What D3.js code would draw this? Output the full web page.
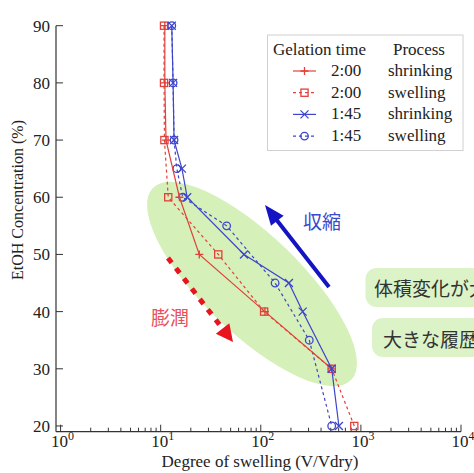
<!DOCTYPE html>
<html><head><meta charset="utf-8">
<script src="https://cdn.jsdelivr.net/npm/d3@7"></script>
<style>body{margin:0;background:#fff;overflow:hidden}svg{display:block}</style>
</head><body>
<script>
// ---- data ----
const redShrinkConc = [90,80,70,60,50,40,30];
const redShrinkVal  = [11.0,11.0,11.3,15.4,24.3,110,511];
const redSwellConc  = [90,80,70,60,50,40,30,20];
const redSwellVal   = [10.8,10.8,10.9,11.9,37.6,108,511,859];
const blueShrinkConc = [90,80,70,65,60,50,45,40,30,20];
const blueShrinkVal  = [12.9,13.3,13.6,16.3,18.4,68,191,262,511,603];
const blueSwellConc  = [90,80,70,65,60,55,45,35,20];
const blueSwellVal   = [12.9,13.3,13.6,14.5,16.6,45.6,139,305,511];
const yTicks = [20,30,40,50,60,70,80,90];
const xDecades = [0,1,2,3,4];
const legendTimes = ["2:00","2:00","1:45","1:45"];
const legendProcess = ["shrinking","swelling","shrinking","swelling"];

const W=474,H=473;
const RED="#e2403a", BLUE="#3d45cc";
const serif="'Liberation Serif','Times New Roman',serif";
const cjk="'Noto Sans CJK JP','Noto Sans CJK SC',sans-serif";

const svg=d3.select("body").append("svg").attr("width",W).attr("height",H);
const x=d3.scaleLog().domain([0.9,1e4]).range([56,461]);
const y=d3.scaleLinear().domain([19,90]).range([431.7,25.7]);

// green ellipse
svg.append("ellipse").attr("cx",252).attr("cy",284).attr("rx",138).attr("ry",49)
  .attr("transform","rotate(44,252,284)").attr("fill","#d6f0b9");

// axes
const axG=svg.append("g").attr("stroke","#333").attr("fill","none");
axG.append("line").attr("x1",56).attr("x2",56).attr("y1",y(90)).attr("y2",y(19)).attr("stroke-width",1.2);
axG.append("line").attr("x1",56).attr("x2",x(1e4)).attr("y1",y(19)).attr("y2",y(19)).attr("stroke-width",1.2);
yTicks.forEach(t=>{
  axG.append("line").attr("x1",56).attr("x2",63).attr("y1",y(t)).attr("y2",y(t));
  svg.append("text").attr("x",50).attr("y",y(t)+6).attr("text-anchor","end")
    .attr("font-family",serif).attr("font-size",17).attr("fill","#222").text(t);
});
xDecades.forEach(d=>{
  const v=Math.pow(10,d);
  axG.append("line").attr("x1",x(v)).attr("x2",x(v)).attr("y1",y(19)).attr("y2",y(19)-7);
  const t=svg.append("text").attr("x",x(v)+2).attr("y",447).attr("text-anchor","middle")
    .attr("font-family",serif).attr("font-size",17).attr("fill","#222");
  t.append("tspan").text("10");
  t.append("tspan").attr("dy",-7).attr("font-size",12).text(d);
  if(d<4) for(let m=2;m<=9;m++){
    const mv=m*v;
    axG.append("line").attr("x1",x(mv)).attr("x2",x(mv)).attr("y1",y(19)).attr("y2",y(19)-4);
  }
});
svg.append("text").attr("x",260).attr("y",467).attr("text-anchor","middle")
  .attr("font-family",serif).attr("font-size",17).attr("fill","#222").text("Degree of swelling (V/Vdry)");
svg.append("text").attr("transform","translate(23,200) rotate(-90)").attr("text-anchor","middle")
  .attr("font-family",serif).attr("font-size",16).attr("fill","#222").text("EtOH Concentration (%)");

// markers
function marker(g,type,cx,cy,color){
  const s=4;
  if(type==="plus"){
    g.append("path").attr("d",`M${cx-s},${cy}H${cx+s}M${cx},${cy-s}V${cy+s}`).attr("stroke",color).attr("stroke-width",1.3).attr("fill","none");
  } else if(type==="square"){
    g.append("rect").attr("x",cx-3.6).attr("y",cy-3.6).attr("width",7.2).attr("height",7.2).attr("stroke",color).attr("stroke-width",1.3).attr("fill","none");
  } else if(type==="cross"){
    g.append("path").attr("d",`M${cx-s},${cy-s}L${cx+s},${cy+s}M${cx-s},${cy+s}L${cx+s},${cy-s}`).attr("stroke",color).attr("stroke-width",1.3).attr("fill","none");
  } else {
    g.append("circle").attr("cx",cx).attr("cy",cy).attr("r",3.8).attr("stroke",color).attr("stroke-width",1.3).attr("fill","none");
  }
}
const series=[
  {conc:redSwellConc,val:redSwellVal,color:RED,dash:"3,3",m:"square"},
  {conc:blueSwellConc,val:blueSwellVal,color:BLUE,dash:"3,3",m:"circle"},
  {conc:redShrinkConc,val:redShrinkVal,color:RED,dash:null,m:"plus"},
  {conc:blueShrinkConc,val:blueShrinkVal,color:BLUE,dash:null,m:"cross"}
];
const line=d3.line().x(d=>x(d[1])).y(d=>y(d[0]));
series.forEach(s=>{
  const pts=s.conc.map((c,i)=>[c,s.val[i]]);
  svg.append("path").attr("d",line(pts)).attr("fill","none").attr("stroke",s.color)
    .attr("stroke-width",1.2).attr("stroke-dasharray",s.dash);
  const g=svg.append("g");
  pts.forEach(p=>marker(g,s.m,x(p[1]),y(p[0]),s.color));
});

// legend
const lg=svg.append("g");
lg.append("rect").attr("x",267.5).attr("y",35).attr("width",195.5).attr("height",115.5)
  .attr("fill","#fff").attr("stroke","#d0d0d0");
lg.append("text").attr("x",273).attr("y",55).attr("font-family",serif).attr("font-size",17).attr("fill","#222").text("Gelation time");
lg.append("text").attr("x",393).attr("y",55).attr("font-family",serif).attr("font-size",17).attr("fill","#222").text("Process");
const legOrder=[series[2],series[0],series[3],series[1]];
legendTimes.forEach((t,i)=>{
  const by=76+i*21.7, s=legOrder[i];
  lg.append("line").attr("x1",293).attr("x2",316).attr("y1",by-5).attr("y2",by-5)
    .attr("stroke",s.color).attr("stroke-width",1.2).attr("stroke-dasharray",s.dash);
  marker(lg,s.m,304.5,by-5,s.color);
  lg.append("text").attr("x",331).attr("y",by).attr("font-family",serif).attr("font-size",17).attr("fill","#222").text(t);
  lg.append("text").attr("x",388).attr("y",by).attr("font-family",serif).attr("font-size",17).attr("fill","#222").text(legendProcess[i]);
});

// annotations
// blue arrow (shrinking)
(function(){
  const tail=[329,287], tip=[265,205];
  const dx=tip[0]-tail[0], dy=tip[1]-tail[1], L=Math.hypot(dx,dy), ux=dx/L, uy=dy/L;
  const hl=20, hw=8, bx=tip[0]-ux*hl, by=tip[1]-uy*hl;
  svg.append("line").attr("x1",tail[0]).attr("y1",tail[1]).attr("x2",bx+ux*2).attr("y2",by+uy*2)
    .attr("stroke","#1414c4").attr("stroke-width",4);
  svg.append("path").attr("d",`M${tip[0]},${tip[1]}L${bx-uy*hw},${by+ux*hw}L${bx+uy*hw},${by-ux*hw}Z`).attr("fill","#1414c4");
})();
svg.append("text").attr("x",303).attr("y",229).attr("font-family",cjk).attr("font-size",19).attr("fill","#3c48cc").text("収縮");
// red dashed arrow (swelling)
(function(){
  const tail=[168,258], tip=[233,342];
  const dx=tip[0]-tail[0], dy=tip[1]-tail[1], L=Math.hypot(dx,dy), ux=dx/L, uy=dy/L;
  const hl=17, hw=8.5, bx=tip[0]-ux*hl, by=tip[1]-uy*hl;
  svg.append("line").attr("x1",tail[0]).attr("y1",tail[1]).attr("x2",bx-ux*4).attr("y2",by-uy*4)
    .attr("stroke","#e8141e").attr("stroke-width",5).attr("stroke-dasharray","6,7");
  svg.append("path").attr("d",`M${tip[0]},${tip[1]}L${bx-uy*hw},${by+ux*hw}L${bx+uy*hw},${by-ux*hw}Z`).attr("fill","#e8141e");
})();
svg.append("text").attr("x",151).attr("y",325).attr("font-family",cjk).attr("font-size",19).attr("fill","#e8505a").text("膨潤");

// right boxes
svg.append("rect").attr("x",365.5).attr("y",268).attr("width",140).attr("height",39).attr("rx",11).attr("fill","#dcf3c8");
svg.append("text").attr("x",374).attr("y",296).attr("font-family",cjk).attr("font-size",19).attr("fill","#333").text("体積変化が大きい");
svg.append("rect").attr("x",372).attr("y",318).attr("width",140).attr("height",39).attr("rx",11).attr("fill","#dcf3c8");
svg.append("text").attr("x",383).attr("y",347).attr("font-family",cjk).attr("font-size",19).attr("fill","#333").text("大きな履歴現象");
</script>
</body></html>
